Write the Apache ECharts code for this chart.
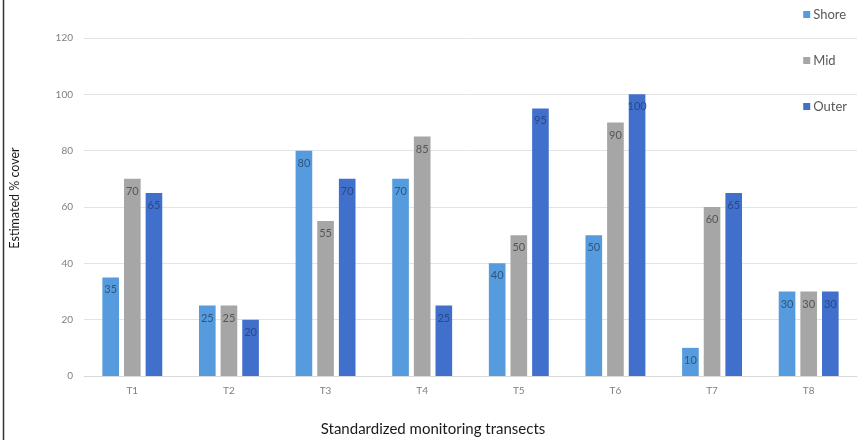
<!DOCTYPE html>
<html>
<head>
<meta charset="utf-8">
<style>
  html, body { margin: 0; padding: 0; background: #ffffff; }
  #chart { width: 866px; height: 440px; }
</style>
<script src="https://cdn.jsdelivr.net/npm/echarts@6/dist/echarts.min.js"></script>
</head>
<body>
<div id="chart"></div>
<script>
// Transects and estimated cover (%) per zone
const transects = ['T1', 'T2', 'T3', 'T4', 'T5', 'T6', 'T7', 'T8'];
const shore = [35, 25, 80, 70, 40, 50, 10, 30];
const mid   = [70, 25, 55, 85, 50, 90, 60, 30];
const outer = [65, 20, 70, 25, 95, 100, 65, 30];
const seriesNames = ['Shore', 'Mid', 'Outer'];
const yTicks = { min: 0, max: 120, step: 20 };
const xTitle = 'Standardized monitoring transects';
const yTitle = 'Estimated % cover';

const colors = ['#569bdd', '#a6a6a6', '#4070cc'];
const labelColors = ['#2d5780', '#555555', '#2a4888'];
const font = 'Lato, "Open Sans", sans-serif';

function barSeries(i, values) {
  return {
    name: seriesNames[i],
    type: 'bar',
    data: values,
    barGap: '30%',
    barCategoryGap: '38%',
    itemStyle: { color: colors[i] },
    label: {
      show: true,
      position: 'insideTop',
      distance: 7,
      color: labelColors[i],
      fontSize: 11,
      fontFamily: font
    }
  };
}

const chart = echarts.init(document.getElementById('chart'), null, { renderer: 'canvas' });
chart.setOption({
  animation: false,
  backgroundColor: '#ffffff',
  color: colors,
  textStyle: { fontFamily: font },
  grid: { left: 84, right: 9, top: 38, bottom: 64, containLabel: false, outerBoundsMode: 'none' },
  title: [
    {
      text: xTitle,
      left: 'center',
      top: 422,
      padding: 0,
      textStyle: { color: '#1a1a1a', fontSize: 15, fontWeight: 'normal', fontFamily: font }
    }
  ],
  legend: {
    orient: 'vertical',
    right: 14,
    top: 3,
    itemGap: 33,
    itemWidth: 7,
    itemHeight: 7,
    icon: 'rect',
    data: seriesNames,
    textStyle: { color: '#595959', fontSize: 13, fontFamily: font, padding: [0, 0, 0, -2] }
  },
  xAxis: {
    type: 'category',
    data: transects,
    axisLine: { lineStyle: { color: '#d9d9d9' } },
    axisTick: { show: false },
    axisLabel: { color: '#7f7f7f', fontSize: 10, margin: 10 }
  },
  yAxis: {
    type: 'value',
    min: yTicks.min,
    max: yTicks.max,
    interval: yTicks.step,
    axisLine: { show: false },
    axisTick: { show: false },
    splitLine: { lineStyle: { color: '#e3e3e3' } },
    axisLabel: { color: '#7f7f7f', fontSize: 10, margin: 11 }
  },
  graphic: [
    {
      type: 'line',
      shape: { x1: 3.5, y1: 0, x2: 3.5, y2: 440 },
      style: { stroke: '#333333', lineWidth: 1.5 }
    },
    {
      type: 'text',
      x: 15,
      y: 198,
      rotation: Math.PI / 2,
      style: {
        text: yTitle,
        fill: '#1a1a1a',
        font: '12.5px ' + font,
        align: 'center',
        verticalAlign: 'middle'
      }
    }
  ],
  series: [
    barSeries(0, shore),
    barSeries(1, mid),
    barSeries(2, outer)
  ]
});
</script>
</body>
</html>
